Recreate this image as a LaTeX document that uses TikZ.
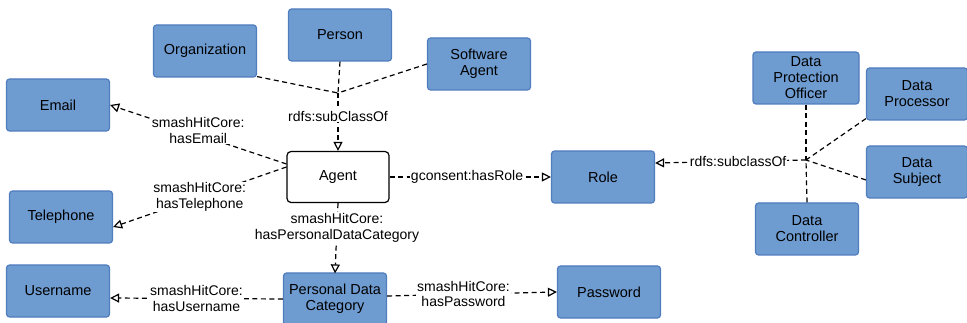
\documentclass[tikz,border=0pt]{standalone}
\usepackage{fontspec}
\setmainfont{Liberation Sans}
\usetikzlibrary{arrows.meta,calc}
\definecolor{boxfill}{RGB}{110,155,208}
\definecolor{boxline}{RGB}{80,125,190}
\tikzset{
  cls/.style={draw=boxline, line width=1.2pt, fill=boxfill, rounded corners=3pt,
    minimum width=103pt, minimum height=52pt, align=center, font=\fontsize{14.5}{16}\selectfont, inner sep=1pt},
  agentbox/.style={draw=black, line width=1.2pt, fill=white, rounded corners=4pt,
    minimum width=102pt, minimum height=51pt, font=\fontsize{14.5}{16}\selectfont},
  rel/.style={draw=black, line width=1.2pt, dash pattern=on 5pt off 3.5pt},
  relarr/.style={rel, -{Triangle[open, length=9pt, width=9pt]}},
  lbl/.style={fill=white, inner sep=1pt, align=center, font=\fontsize{14}{15.5}\selectfont}
}
\begin{document}
\begin{tikzpicture}[x=1pt, y=-1pt]
\useasboundingbox (0,0) rectangle (967,323);
% nodes
\node[cls] (org) at (205,51) {Organization};
\node[cls] (person) at (340,35) {Person};
\node[cls] (soft) at (479,64) {Software\\Agent};
\node[cls] (email) at (58,105) {Email};
\node[agentbox] (agent) at (338,177) {Agent};
\node[cls] (tel) at (61,217) {Telephone};
\node[cls] (user) at (58,291) {Username};
\node[cls] (pdc) at (335,299) {Personal Data\\Category};
\node[cls] (pass) at (609,292) {Password};
\node[cls] (role) at (603,177) {Role};
\node[cls, minimum width=106pt] (dpo) at (806,78) {Data\\Protection\\Officer};
\node[cls, minimum width=101pt] (proc) at (917,94) {Data\\Processor};
\node[cls, minimum width=101pt] (subj) at (917,172) {Data\\Subject};
\node[cls] (ctrl) at (807,229) {Data\\Controller};
\coordinate (j1) at (338,93);
\coordinate (j2) at (806,160);
% subclass to Agent
\draw[rel] (org.south east) ++(0,-1) -- (j1);
\draw[rel] (person.south) -- (j1);
\draw[rel] (soft.west) -- (j1);
\draw[relarr] (j1) -- node[lbl, pos=0.4] {rdfs:subClassOf} (agent.north);
% Agent relations
\draw[relarr] (agent.west) ++(0,-13) -- node[lbl, pos=0.5, yshift=4pt] {smashHitCore:\\hasEmail} (email.east);
\draw[relarr] (agent.west) ++(0,-10) -- node[lbl, pos=0.5] {smashHitCore:\\hasTelephone} ($(tel.east)+(0,10)$);
\draw[relarr] (agent.east) -- node[lbl, pos=0.48] {gconsent:hasRole} (role.west);
\draw[relarr] (agent.south) -- node[lbl, pos=0.35] {smashHitCore:\\hasPersonalDataCategory} ($(pdc.north)+(0,1)$);
\draw[relarr] (pdc.west) -- node[lbl, pos=0.5] {smashHitCore:\\hasUsername} ($(user.east)+(0,7)$);
\draw[relarr] ($(pdc.east)+(0,-3)$) -- node[lbl, pos=0.45] {smashHitCore:\\hasPassword} (pass.west);
% Role subclasses
\draw[rel] (dpo.south) -- (j2);
\draw[rel] (proc.south west) ++(0,-2) -- (j2);
\draw[rel] (subj.west) ++(0,8) -- (j2);
\draw[rel] (ctrl.north) -- (j2);
\draw[relarr] (j2) -- node[lbl, pos=0.45] {rdfs:subclassOf} ($(role.east)+(0,-14)$);
\end{tikzpicture}
\end{document}
